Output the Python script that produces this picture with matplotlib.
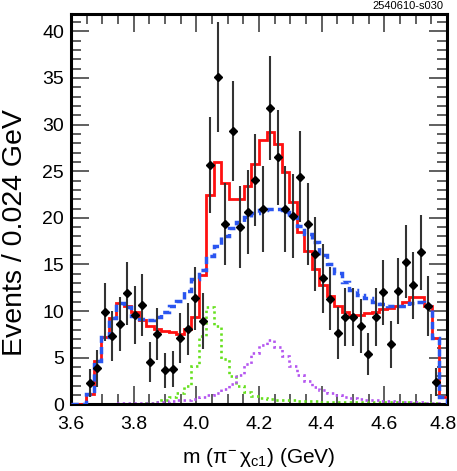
import numpy as np
import matplotlib
matplotlib.use("Agg")
import matplotlib.pyplot as plt
from matplotlib.ticker import MultipleLocator

plt.rcParams['font.family'] = ['Liberation Sans', 'DejaVu Sans']
plt.rcParams['mathtext.fontset'] = 'custom'
plt.rcParams['mathtext.rm'] = 'Liberation Sans'
plt.rcParams['mathtext.it'] = 'Liberation Sans'

# 50 bins of 0.024 GeV from 3.6 to 4.8
edges = np.linspace(3.6, 4.8, 51)

# total fit (red)
fit_total = [0.0, 0.0, 1.1, 4.7, 7.2, 9.3, 10.9, 10.6, 9.9, 9.1,
             8.4, 8.05, 7.85, 7.8, 7.6, 8.1, 9.4, 13.9, 22.5, 26.0,
             23.7, 22.0, 22.0, 23.4, 25.8, 28.3, 29.2, 27.9, 24.9, 21.7,
             18.5, 16.4, 14.5, 12.8, 11.6, 10.6, 9.9, 9.6, 9.6, 9.8,
             9.9, 10.2, 10.3, 10.5, 11.0, 11.5, 11.5, 10.6, 7.1, 0.8]

# fit without resonances (blue dashed)
fit_nores = [0.0, 0.0, 1.1, 4.7, 7.2, 9.3, 10.9, 10.4, 9.5, 9.2,
             9.1, 9.4, 9.9, 10.5, 11.1, 12.2, 13.4, 14.4, 15.9, 17.0,
             18.0, 18.9, 19.5, 20.1, 20.5, 20.8, 20.9, 20.9, 20.6, 20.1,
             19.1, 18.3, 17.4, 16.0, 15.1, 14.1, 13.1, 12.3, 11.7, 11.4,
             11.0, 10.8, 10.5, 10.5, 10.6, 10.9, 11.0, 10.6, 7.1, 0.8]

# Z1 component (green dotted)
z1 = [0.0, 0.0, 0.0, 0.0, 0.0, 0.0, 0.0, 0.0, 0.0, 0.05,
      0.15, 0.3, 0.5, 0.8, 1.2, 2.0, 4.1, 7.3, 10.4, 8.4,
      4.9, 3.0, 2.0, 1.3, 0.9, 0.72, 0.6, 0.52, 0.46, 0.42,
      0.38, 0.35, 0.33, 0.31, 0.3, 0.28, 0.27, 0.26, 0.25, 0.25,
      0.24, 0.23, 0.22, 0.22, 0.21, 0.2, 0.2, 0.19, 0.15, 0.05]

# Z2 component (purple dotted)
z2 = [0.05, 0.05, 0.06, 0.07, 0.08, 0.09, 0.1, 0.12, 0.14, 0.17,
      0.2, 0.25, 0.3, 0.35, 0.42, 0.5, 0.6, 0.8, 1.0, 1.2,
      1.7, 2.2, 3.1, 4.3, 5.5, 6.4, 6.9, 6.2, 5.2, 4.1,
      3.2, 2.5, 1.9, 1.5, 1.2, 1.0, 0.83, 0.68, 0.56, 0.48,
      0.42, 0.37, 0.33, 0.3, 0.27, 0.24, 0.22, 0.2, 0.15, 0.05]

# data points, bins 3..49
events = [2.33, 3.87, 9.87, 7.3, 8.65, 11.9, 9.58, 10.65, 4.54, 7.58,
          3.65, 3.79, 7.15, 8.08, 11.37, 8.94, 25.66, 35.05, 19.34, 29.3,
          18.98, 20.65, 24.05, 20.94, 31.77, 26.48, 20.94, 20.23, 24.4, 19.34,
          16.12, 13.5, 11.35, 7.62, 9.4, 9.4, 8.4, 5.4, 9.33, 12.0,
          6.45, 12.15, 15.3, 12.76, 16.3, 10.56, 2.35]
errors = [1.5, 2.0, 3.1, 2.7, 2.9, 3.4, 3.1, 3.3, 2.1, 2.8,
          1.9, 1.9, 2.7, 2.8, 3.4, 3.0, 5.1, 5.9, 4.4, 5.4,
          4.4, 4.5, 4.9, 4.6, 5.6, 5.1, 4.6, 4.5, 4.9, 4.4,
          4.0, 3.7, 3.4, 2.8, 3.1, 3.1, 2.9, 2.3, 3.1, 3.5,
          2.5, 3.5, 3.9, 3.6, 4.0, 3.2, 1.5]

xticks = [3.6, 3.8, 4.0, 4.2, 4.4, 4.6, 4.8]
xtick_labels = ["3.6", "3.8", "4.0", "4.2", "4.4", "4.6", "4.8"]

centers = 0.5 * (edges[:-1] + edges[1:])
mass = centers[2:2 + len(events)]

fig = plt.figure(figsize=(4.57, 4.71), dpi=100)
ax = fig.add_axes([71 / 457, 1 - 404.4 / 471, 376 / 457, 390.4 / 471])

ax.stairs(z1, edges, color="#66e01e", lw=1.9, ls=(0, (0.9, 1.3)), zorder=2)
ax.stairs(z2, edges, color="#b455f0", lw=1.9, ls=(0, (0.9, 1.3)), zorder=2)
ax.stairs(fit_total, edges, color="#ff1010", lw=2.0, zorder=3)
ax.stairs(fit_nores, edges, color="#2a55f0", lw=2.5, ls=(0, (2.1, 1.2)), zorder=4)

ax.errorbar(mass, events, yerr=errors, fmt="D", color="black", ms=4.2,
            ecolor="#333333", elinewidth=1.5, capsize=0, zorder=5)

ax.set_xlim(3.6, 4.8)
ax.set_ylim(0, 41.85)
# last label is drawn separately, nudged left so it stays inside the figure
ax.set_xticks(xticks, xtick_labels[:-1] + [""])
ax.annotate(xtick_labels[-1], xy=(xticks[-1], 0), xycoords=("data", "axes fraction"),
            xytext=(-3, -8), textcoords="offset points", ha="center", va="top",
            fontsize=14)
ax.xaxis.set_minor_locator(MultipleLocator(0.05))
ax.yaxis.set_major_locator(MultipleLocator(5))
ax.yaxis.set_minor_locator(MultipleLocator(1))
ax.tick_params(which="both", direction="in", top=True, right=True,
               color="#444444", width=1.2, labelsize=14)
ax.tick_params(which="major", length=13)
ax.tick_params(which="minor", length=7)
ax.tick_params(axis="x", pad=8)
ax.tick_params(axis="y", pad=5)
for s in ax.spines.values():
    s.set_linewidth(2.2)

ax.set_xlabel(r"m $(\pi^{-}\,\chi_{c1})$ (GeV)", fontsize=15, va="center")
ax.xaxis.set_label_coords(0.5, -0.137)
ax.set_ylabel("Events / 0.024 GeV", fontsize=20.5, va="center")
ax.yaxis.set_label_coords(-0.15, 0.44)
fig.text(443 / 457, 1 - 6 / 471, "2540610-s030", ha="right", va="center", fontsize=8)

fig.savefig("out.png", dpi=100)
